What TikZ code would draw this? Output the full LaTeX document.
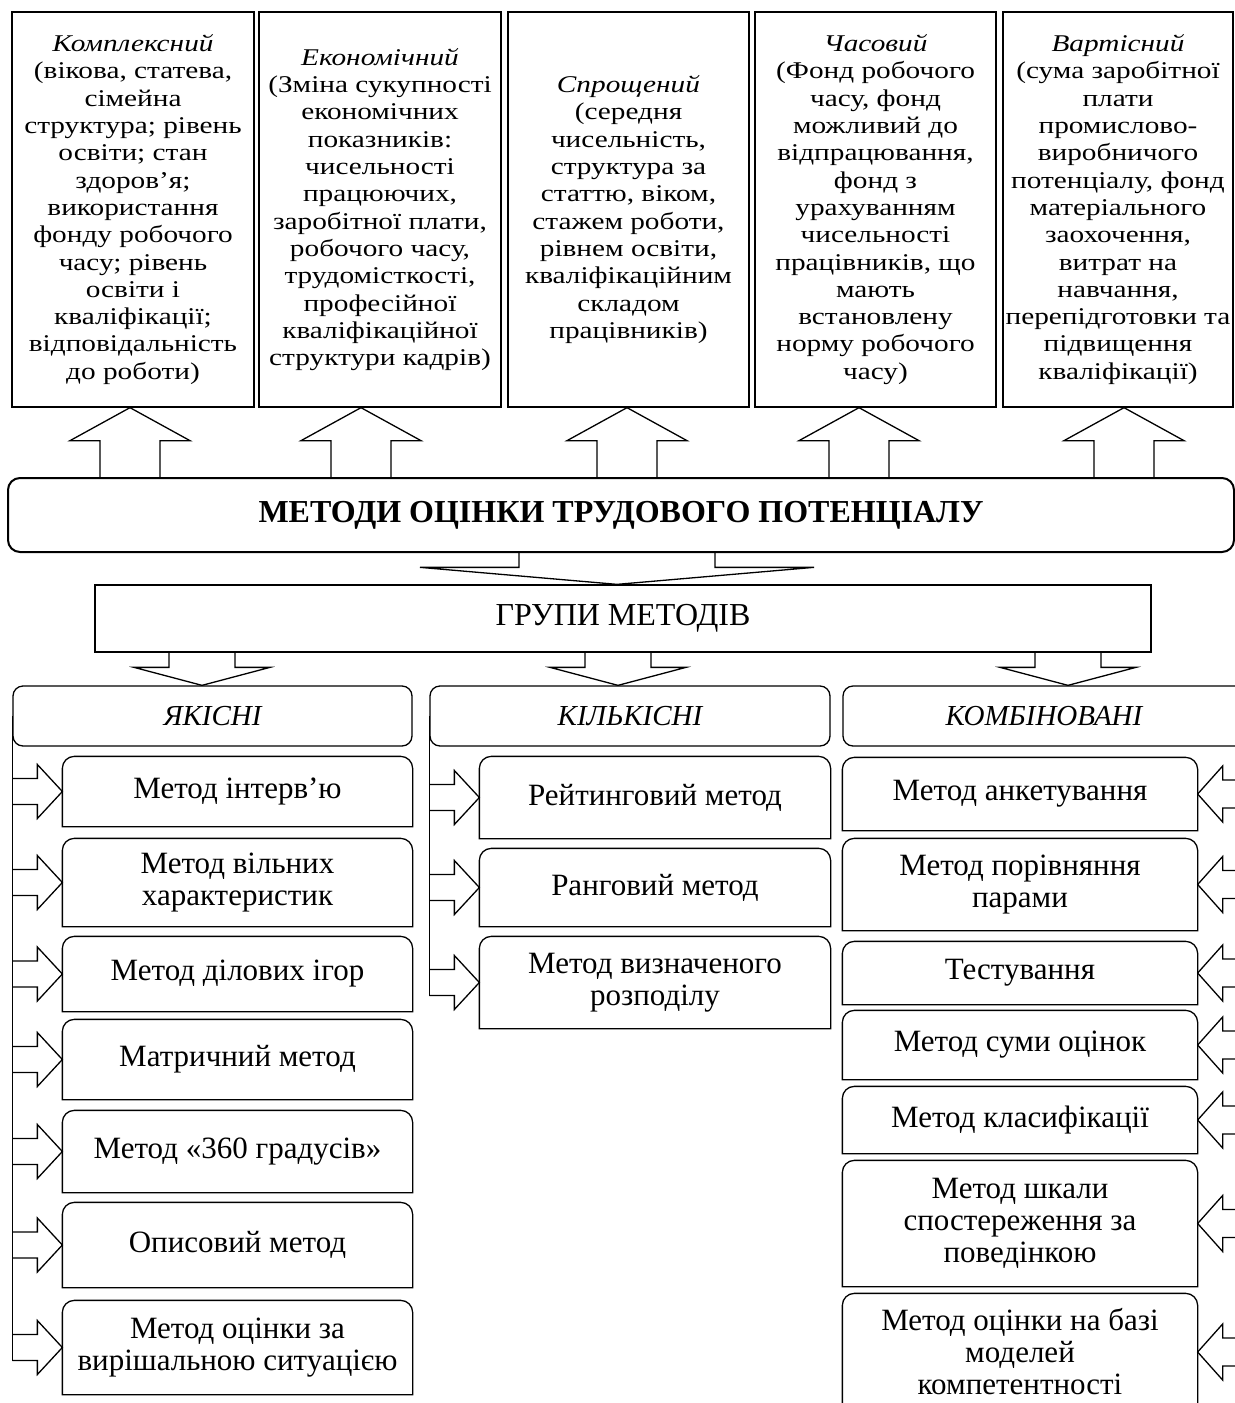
\documentclass[tikz,border=0pt]{standalone}
\usepackage{fontspec}
\setmainfont{Liberation Serif}
\newfontfamily\widefont[FakeStretch=1.22]{Liberation Serif}
\usetikzlibrary{calc}

% block arrow from the main box up into #1, tip moved by #2
\newcommand{\uparr}[2]{%
	\draw[shift={($(#1.south)+(#2,0)$)}]
		(-30,71) -- (-30,33) -- (-60,33) -- (0,0) -- (60,33) -- (30,33) -- (30,71);}

% block arrow down into #1: shift, shaft half, head half, shaft length, head length
\newcommand{\downarr}[6]{%
	\draw[shift={($(#1.north)+(#2,0)$)}]
		(-#3,-#5) -- (-#3,-#6) -- (-#4,-#6) -- (0,0) -- (#4,-#6) -- (#3,-#6) -- (#3,-#5);}

% side arrows from a spine into a method box
\newcommand{\rarr}[1]{%
	\draw[shift={(#1.west)}]
		(-50,-13) -- (-25,-13) -- (-25,-27) -- (0,0) -- (-25,27) -- (-25,13) -- (-50,13);}
\newcommand{\larr}[1]{%
	\draw[shift={(#1.east)}]
		(50,-14) -- (25,-14) -- (25,-28) -- (0,0) -- (25,28) -- (25,14) -- (50,14);}

\begin{document}
\begin{tikzpicture}[x=0.5pt, y=-0.5pt, line width=0.65pt,
	topbox/.style={draw, minimum height=197.5pt, inner sep=1pt, align=center,
		font=\widefont\fontsize{12}{13.65}\selectfont},
	groupbox/.style={draw, rounded corners=5pt, minimum height=30pt,
		font=\itshape\fontsize{14.5}{16}\selectfont},
	method/.style={inner sep=1pt, align=center, font=\fontsize{15.5}{16}\selectfont}]

	\useasboundingbox (0,0) rectangle (1235,1403);

	% Kinds of assessment

	\node [topbox, minimum width=121pt] (t1) at (133,209.5) {\textit{Комплексний}\\(вікова, статева,\\сімейна\\структура; рівень\\освіти; стан\\здоров’я;\\використання\\фонду робочого\\часу; рівень\\освіти і\\кваліфікації;\\відповідальність\\до роботи)};
	\node [topbox, minimum width=121pt] (t2) at (380,209.5) {\textit{Економічний}\\(Зміна сукупності\\економічних\\показників:\\чисельності\\працюючих,\\заробітної плати,\\робочого часу,\\трудомісткості,\\професійної\\кваліфікаційної\\структури кадрів)};
	\node [topbox, minimum width=120.5pt] (t3) at (628.5,209.5) {\textit{Спрощений}\\(середня\\чисельність,\\структура за\\статтю, віком,\\стажем роботи,\\рівнем освіти,\\кваліфікаційним\\складом\\працівників)};
	\node [topbox, minimum width=120.5pt] (t4) at (875.5,209.5) {\textit{Часовий}\\(Фонд робочого\\часу, фонд\\можливий до\\відпрацювання,\\фонд з\\урахуванням\\чисельності\\працівників, що\\мають\\встановлену\\норму робочого\\часу)};
	\node [topbox, minimum width=115pt] (t5) at (1118,209.5) {\textit{Вартісний}\\(сума заробітної\\плати\\промислово-\\виробничого\\потенціалу, фонд\\матеріального\\заохочення,\\витрат на\\навчання,\\перепідготовки та\\підвищення\\кваліфікації)};

	% Main boxes

	\node [draw, line width=1pt, rounded corners=6pt, minimum width=613pt, minimum height=37pt,
		font=\bfseries\fontsize{16}{18}\selectfont] (main) at (621,515) {МЕТОДИ ОЦІНКИ ТРУДОВОГО ПОТЕНЦІАЛУ};
	\node [draw, minimum width=528pt, minimum height=33.5pt,
		font=\fontsize{16}{18}\selectfont] (groups) at (623,618.5) {ГРУПИ МЕТОДІВ};

	\node [groupbox, minimum width=199.5pt] (g1) at (212.5,716) {ЯКІСНІ};
	\node [groupbox, minimum width=200pt] (g2) at (630,716) {КІЛЬКІСНІ};
	\node [groupbox, minimum width=201pt] (g3) at (1044,716) {КОМБІНОВАНІ};

	% Methods

	\begin{scope}[every node/.style={method, minimum width=174.5pt}]
		\node [minimum height=34.5pt] (l1) at (237.5,791.5) {Метод інтерв’ю};
		\node [minimum height=43.5pt] (l2) at (237.5,882.5) {Метод вільних\\характеристик};
		\node [minimum height=37pt] (l3) at (237.5,974) {Метод ділових ігор};
		\node [minimum height=39.5pt] (l4) at (237.5,1059.5) {Матричний метод};
		\node [minimum height=40.5pt] (l5) at (237.5,1151.5) {Метод «360 градусів»};
		\node [minimum height=42pt] (l6) at (237.5,1245) {Описовий метод};
		\node [minimum height=46.5pt] (l7) at (237.5,1347.5) {Метод оцінки за\\вирішальною ситуацією};
	\end{scope}

	\begin{scope}[every node/.style={method, minimum width=175pt}]
		\node [minimum height=40.5pt] (m1) at (655,797.5) {Рейтинговий метод};
		\node [minimum height=38.5pt] (m2) at (655,887.5) {Ранговий метод};
		\node [minimum height=45.5pt] (m3) at (655,982.5) {Метод визначеного\\розподілу};
	\end{scope}

	\begin{scope}[every node/.style={method, minimum width=177pt}]
		\node [minimum height=36pt] (r1) at (1020,794) {Метод анкетування};
		\node [minimum height=45.5pt] (r2) at (1020,884.5) {Метод порівняння\\парами};
		\node [minimum height=31pt] (r3) at (1020,973) {Тестування};
		\node [minimum height=34pt] (r4) at (1020,1045) {Метод суми оцінок};
		\node [minimum height=33pt] (r5) at (1020,1120) {Метод класифікації};
		\node [minimum height=62.5pt] (r6) at (1020,1223.5) {Метод шкали\\спостереження за\\поведінкою};
		\node [minimum height=58pt] (r7) at (1020,1352) {Метод оцінки на базі\\моделей\\компетентності};
	\end{scope}

	% method boxes are rounded at the top only
	\foreach \n in {l1,l2,l3,l4,l5,l6,l7,m1,m2,m3,r1,r2,r3,r4,r5,r6,r7}
		\draw (\n.south west) -- ([yshift=-6pt]\n.north west)
			arc[start angle=180, end angle=90, radius=6pt] -- ([xshift=-6pt]\n.north east)
			arc[start angle=90, end angle=0, radius=6pt] -- (\n.south east) -- cycle;

	% Arrows

	\uparr{t1}{-3}
	\uparr{t2}{-19}
	\uparr{t3}{-1.5}
	\uparr{t4}{-16.5}
	\uparr{t5}{6}

	\downarr{groups}{-6}{98}{197}{33}{17}
	\downarr{g1}{-10.5}{33}{68}{34}{18}
	\downarr{g2}{-12}{33}{68}{34}{18}
	\downarr{g3}{24}{33}{68}{34}{18}

	% Spines

	\draw (g1.west) -- (g1.west |- l7.west) -- ++(0,13);
	\draw (g2.west) -- (g2.west |- m3.west) -- ++(0,13);
	\draw (g3.east) -- (g3.east |- r7.east) -- ++(0,14);

	\foreach \n in {l1,l2,l3,l4,l5,l6,l7,m1,m2,m3} {\rarr{\n}}
	\foreach \n in {r1,r2,r3,r4,r5,r6,r7} {\larr{\n}}

\end{tikzpicture}
\end{document}
